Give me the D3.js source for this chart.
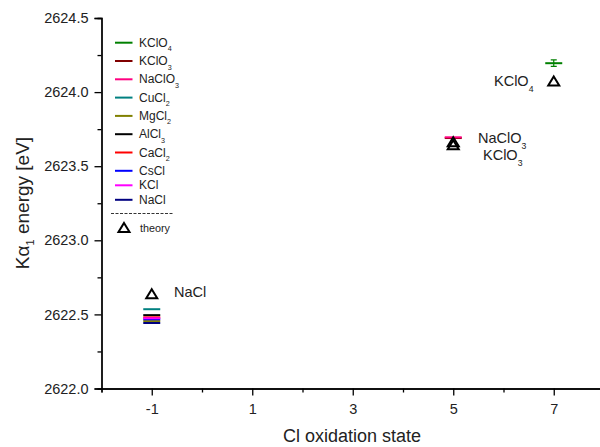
<!DOCTYPE html>
<html><head><meta charset="utf-8">
<script src="https://cdn.jsdelivr.net/npm/d3@7"></script>
<style>body{margin:0;background:#fff}svg{font-family:"Liberation Sans",Arial,sans-serif}</style>
</head><body><svg id="c" width="600" height="447"></svg>
<script>
// Data
const compounds = ["KClO4","KClO3","NaClO3","CuCl2","MgCl2","AlCl3","CaCl2","CsCl","KCl","NaCl"];
const labelBase = ["KClO","KClO","NaClO","CuCl","MgCl","AlCl","CaCl","CsCl","KCl","NaCl"];
const labelSub  = ["4","3","3","2","2","3","2","","",""];
const colors = ["#008000","#800000","#ff0080","#008080","#808000","#000000","#ff0000","#0000ff","#ff00ff","#000080"];
const oxState = [7,5,5,-1,-1,-1,-1,-1,-1,-1];
const measured = [2624.195,2623.69,2623.695,2622.535,2622.455,2622.495,2622.48,2622.467,2622.474,2622.442];
const errors = [0.022,0,0,0,0,0,0,0,0,0];
const theoryX = [-1,5,5,7];
const theoryY = [2622.64,2623.665,2623.645,2624.075];
const xTicks = [-1,1,3,5,7];
const xMinor = [-2,0,2,4,6];
const yTicks = [2622.0,2622.5,2623.0,2623.5,2624.0,2624.5];
const yMinor = [2622.25,2622.75,2623.25,2623.75,2624.25];

const svg = d3.select("#c");
const x = d3.scaleLinear().domain([-2,8]).range([101.5,604]);
const y = d3.scaleLinear().domain([2622,2624.5]).range([388.5,18]);

// axes
const gx = svg.append("g").attr("transform","translate(0,388.5)");
gx.call(d3.axisBottom(x).tickValues(xTicks).tickSize(7).tickPadding(8.5).tickFormat(d => String(d)));
gx.append("g").call(d3.axisBottom(x).tickValues(xMinor).tickSize(4).tickFormat(""));
const gy = svg.append("g").attr("transform","translate(101.5,0)");
gy.call(d3.axisLeft(y).tickValues(yTicks).tickSize(7).tickPadding(6).tickFormat(d3.format(".1f")));
gy.append("g").call(d3.axisLeft(y).tickValues(yMinor).tickSize(4).tickFormat(""));
svg.selectAll(".domain").attr("stroke","#000").attr("stroke-width",1.3);
svg.selectAll(".tick line").attr("stroke","#000").attr("stroke-width",1.3);
svg.selectAll(".tick text").attr("font-size",14.5).attr("fill","#222").attr("font-family","Liberation Sans, Arial, sans-serif");
gx.select(".domain").attr("d","M101.5,0.5H604");

// axis titles
svg.append("text").attr("x",352).attr("y",442).attr("text-anchor","middle").attr("font-size",18).attr("fill","#222").text("Cl oxidation state");
const yt = svg.append("text").attr("transform","translate(29,203) rotate(-90)").attr("text-anchor","middle").attr("font-size",19).attr("fill","#222");
yt.append("tspan").text("Kα");
yt.append("tspan").attr("font-size",11).attr("dy",5).text("1");
yt.append("tspan").attr("dy",-5).text(" energy [eV]");

// measured lines
const hw = 8.5;
compounds.forEach((c,i) => {
  svg.append("line").attr("x1",x(oxState[i])-hw).attr("x2",x(oxState[i])+hw)
    .attr("y1",y(measured[i])).attr("y2",y(measured[i]))
    .attr("stroke",colors[i]).attr("stroke-width",2);
  if (errors[i] > 0) {
    const cx = x(oxState[i]);
    const y1 = y(measured[i]+errors[i]), y2 = y(measured[i]-errors[i]);
    svg.append("path").attr("d",`M${cx},${y1}V${y2}M${cx-3},${y1}H${cx+3}M${cx-3},${y2}H${cx+3}`)
      .attr("stroke",colors[i]).attr("stroke-width",1.2).attr("fill","none");
  }
});

// theory triangles
const tri = (cx,cy) => `M${cx},${cy-4.5}L${cx+5.5},${cy+4.5}L${cx-5.5},${cy+4.5}Z`;
theoryX.forEach((tx,i) => {
  svg.append("path").attr("d",tri(x(tx),y(theoryY[i]))).attr("fill","none").attr("stroke","#000").attr("stroke-width",2);
});

// annotations
function label(xp, yp, base, sub, size) {
  const t = svg.append("text").attr("x",xp).attr("y",yp).attr("font-size",size).attr("fill","#222");
  t.append("tspan").text(base);
  if (sub) t.append("tspan").attr("font-size",size*0.6).attr("dy",size*0.38).text(sub);
  return t;
}
label(174, 297, "NaCl", "", 14.5);
label(494, 86, "KClO", "4", 14.5);
label(478, 143, "NaClO", "3", 14.5);
label(483, 160, "KClO", "3", 14.5);

// legend
let ly = 42.7;
compounds.forEach((c,i) => {
  svg.append("line").attr("x1",115).attr("x2",132.5).attr("y1",ly).attr("y2",ly).attr("stroke",colors[i]).attr("stroke-width",2);
  label(139, ly+4, labelBase[i], labelSub[i], 12);
  ly += labelSub[i] ? 18.3 : 14.5;
});
svg.append("line").attr("x1",111).attr("x2",173).attr("y1",213.5).attr("y2",213.5).attr("stroke","#000").attr("stroke-width",0.8).attr("stroke-dasharray","3,1.5");
svg.append("path").attr("d",tri(124,227.5)).attr("fill","none").attr("stroke","#000").attr("stroke-width",2);
svg.append("text").attr("x",140).attr("y",231.5).attr("font-size",10.8).attr("fill","#222").text("theory");
</script></body></html>
